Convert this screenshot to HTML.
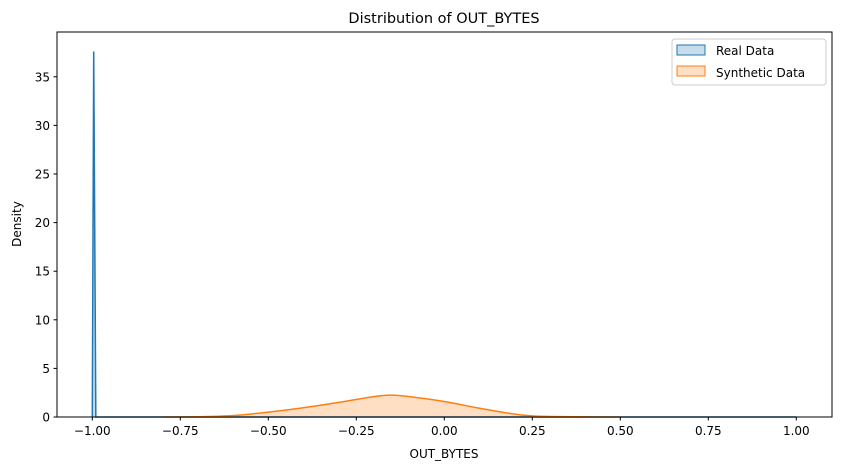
<!DOCTYPE html>
<html><head><meta charset="utf-8"><style>
body{margin:0;background:#fff;font-family:"Liberation Sans","DejaVu Sans",sans-serif;}
svg text{font-family:"DejaVu Sans","Liberation Sans",sans-serif;}
</style></head><body>
<svg id="chart" width="841" height="470" xmlns="http://www.w3.org/2000/svg">
<text x="444" y="23" font-size="14.5" text-anchor="middle">Distribution of OUT_BYTES</text>
<g id="plot"></g>
<rect x="57" y="32" width="775" height="385" fill="none" stroke="#000" stroke-width="1"/>
<text x="444" y="458" font-size="12" text-anchor="middle">OUT_BYTES</text>
<text transform="translate(21,224) rotate(-90)" font-size="12" text-anchor="middle">Density</text>
<g>
<rect x="672" y="39" width="154" height="46" rx="3" fill="#fff" fill-opacity="0.8" stroke="#ccc"/>
<rect x="677" y="45" width="28" height="10" fill="#1f77b4" fill-opacity="0.25" stroke="#1f77b4"/>
<text x="716" y="55" font-size="12">Real Data</text>
<rect x="677" y="66" width="28" height="10" fill="#ff7f0e" fill-opacity="0.25" stroke="#ff7f0e"/>
<text x="716" y="77" font-size="12">Synthetic Data</text>
</g>
</svg>
<script>
const xTicks=[-1.00,-0.75,-0.50,-0.25,0.00,0.25,0.50,0.75,1.00];
const yTicks=[0,5,10,15,20,25,30,35];
const synthX=[-0.8,-0.7,-0.6,-0.5,-0.4,-0.3,-0.2,-0.15,-0.1,0,0.1,0.2,0.25,0.3,0.4,0.5];
const synthY=[0,0.02,0.15,0.5,0.95,1.5,2.1,2.25,2.1,1.6,0.9,0.3,0.12,0.05,0.01,0];
const realX=[-1.0,-0.996,-0.99,-0.9,0,0.5,1.0];
const realY=[0,37.6,0,0,0,0,0];
const X=v=>92.3+(v+1)*352;
const Y=v=>417-v*9.72;
const NS="http://www.w3.org/2000/svg";
const g=document.getElementById('plot');
function mk(t,a){const e=document.createElementNS(NS,t);for(const k in a)e.setAttribute(k,a[k]);g.appendChild(e);return e;}
function path(xs,ys){let d='M'+X(xs[0])+','+Y(ys[0]);for(let i=1;i<xs.length;i++)d+=' L'+X(xs[i])+','+Y(ys[i]);return d;}
function smooth(xs,ys){const p=xs.map((x,i)=>[X(x),Y(ys[i])]);let d='M'+p[0][0]+','+p[0][1];
for(let i=0;i<p.length-1;i++){const p0=p[i-1]||p[i],p1=p[i],p2=p[i+1],p3=p[i+2]||p2;
d+=` C${p1[0]+(p2[0]-p0[0])/6},${p1[1]+(p2[1]-p0[1])/6} ${p2[0]-(p3[0]-p1[0])/6},${p2[1]-(p3[1]-p1[1])/6} ${p2[0]},${p2[1]}`;}return d;}
let e;
const sd=smooth(synthX,synthY);
e=mk('path',{d:sd+` L${X(synthX[synthX.length-1])},${Y(0)} L${X(synthX[0])},${Y(0)} Z`,fill:'#ff7f0e','fill-opacity':0.25,stroke:'none'});

const rd=path(realX,realY);
e=mk('path',{d:rd+' Z',fill:'#1f77b4','fill-opacity':0.25,stroke:'none'});

e=mk('path',{d:rd,fill:'none',stroke:'#1f77b4','stroke-width':1.5});

e=mk('path',{d:sd,fill:'none',stroke:'#ff7f0e','stroke-width':1.5});

xTicks.forEach(v=>{const x=X(v);
e=mk('line',{x1:x,x2:x,y1:417,y2:420.5,stroke:'#000'});

e=mk('text',{x:x,y:435,'font-size':12,'text-anchor':'middle'});e.textContent=(v<0?'\u2212':'')+Math.abs(v).toFixed(2);
});
yTicks.forEach(v=>{const y=Y(v);
e=mk('line',{x1:53.5,x2:57,y1:y,y2:y,stroke:'#000'});

e=mk('text',{x:50,y:y+4.5,'font-size':12,'text-anchor':'end'});e.textContent=v;
});
</script>
</body></html>
